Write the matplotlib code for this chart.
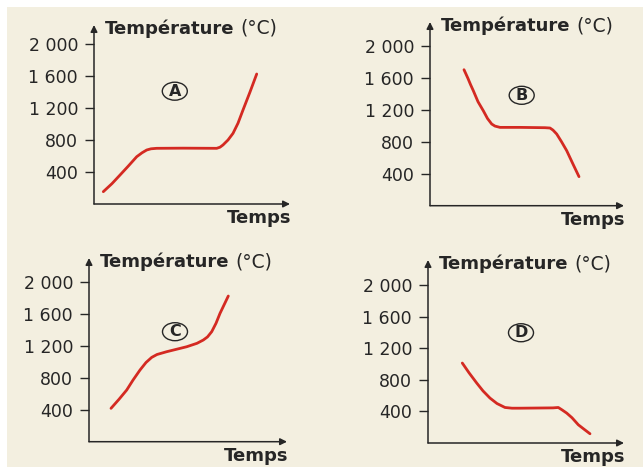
import matplotlib
matplotlib.use("Agg")
import matplotlib.pyplot as plt
from matplotlib.patches import Ellipse, Rectangle

# ---------------- data (time in arbitrary units, temperature in °C) ----------------
tick_values = [400, 800, 1200, 1600, 2000]
tick_labels = ["400", "800", "1 200", "1 600", "2 000"]
y_label = "Température"
y_unit = "(°C)"
x_label = "Temps"
panel_names = ["A", "B", "C", "D"]

time_A = [9.3, 18, 26, 34, 42.7, 48, 52.7, 57, 62.7, 89, 122.7, 126, 129, 134, 139, 144, 149, 156, 162.7]
temp_A = [154, 255, 362, 470, 591, 640, 675, 690, 696, 698, 696, 710, 738, 800, 883, 1010, 1175, 1400, 1625]

time_B = [34, 36, 38, 40.5, 43.3, 48, 53.3, 57.5, 61.7, 65, 70, 90, 115, 120, 123, 126.7, 131.5, 136.7, 143, 149]
temp_B = [1700, 1645, 1590, 1515, 1438, 1300, 1187, 1090, 1021, 995, 979, 979, 975, 971, 945, 896, 800, 688, 520, 363]

time_C = [22, 30, 37.7, 44, 51, 57, 62.7, 68, 77.7, 97.7, 108, 114.3, 118.5, 122.7, 127, 131, 139.3]
temp_C = [417, 530, 646, 770, 896, 990, 1054, 1090, 1125, 1187, 1230, 1271, 1310, 1375, 1480, 1604, 1821]

time_D = [34.3, 41, 48.7, 55, 62, 69, 77, 84, 92, 125, 130.3, 134, 138.7, 144, 150.3, 156, 162]
temp_D = [1013, 890, 760, 660, 569, 500, 450, 441, 441, 445, 450, 420, 379, 320, 231, 175, 117]

series = [(time_A, temp_A), (time_B, temp_B), (time_C, temp_C), (time_D, temp_D)]

# ---------------- layout (pixels) ----------------
W, H = 643, 467
# (y-axis x, x-axis y, right arrow tip x, top arrow tip y, °C per pixel)
geoms = [
    (94, 204, 290, 25, 12.5),
    (430, 205.7, 624, 22, 12.5),
    (89, 441.7, 287, 258, 12.5),
    (428, 443, 624, 260, 12.67),
]
label_pos = [(80.8, 1410), (91.7, 1380), (86, 1375), (93, 1397)]

BG = "#f3efe0"
RED = "#d42a22"
INK = "#262626"

fig = plt.figure(figsize=(W / 100, H / 100), dpi=100, facecolor="white")
fig.patches.append(Rectangle((7 / W, 0), 1 - 7 / W, 1 - 7 / H, transform=fig.transFigure,
                             facecolor=BG, edgecolor="none", zorder=-10))

plt.rcParams["font.family"] = ["DejaVu Sans"]
renderer = fig.canvas.get_renderer()

for (x0, y0, xr, yt, scale), (tx, ty), name, lp in zip(geoms, series, panel_names, label_pos):
    wpx = xr - x0
    hpx = y0 - yt
    ax = fig.add_axes([x0 / W, 1 - y0 / H, wpx / W, hpx / H])
    ax.set_facecolor("none")
    ax.set_xlim(0, wpx)
    ax.set_ylim(0, hpx * scale)
    for s in ax.spines.values():
        s.set_visible(False)
    ax.set_xticks([])
    ax.set_yticks(tick_values)
    ax.set_yticklabels(tick_labels)
    ax.tick_params(axis="y", direction="out", length=6.5, width=1.0, pad=5,
                   labelsize=12.5, colors=INK)

    # axis arrows
    arrow = dict(arrowstyle="-|>", lw=1.1, color=INK, mutation_scale=10,
                 shrinkA=0, shrinkB=0)
    ax.annotate("", xy=(0, 1), xytext=(0, 0), xycoords="axes fraction",
                arrowprops=arrow, annotation_clip=False)
    ax.annotate("", xy=(1, 0), xytext=(0, 0), xycoords="axes fraction",
                arrowprops=arrow, annotation_clip=False)

    # curve
    ax.plot(tx, ty, color=RED, lw=2.0, solid_capstyle="round", solid_joinstyle="round")

    # axis titles
    t1 = ax.annotate(y_label, xy=(0, 1), xycoords="axes fraction", xytext=(11, -9),
                     textcoords="offset pixels", ha="left", va="baseline",
                     fontsize=13, fontweight="bold", color=INK, annotation_clip=False)
    bb = t1.get_window_extent(renderer)
    ax.annotate(y_unit, xy=(0, 1), xycoords="axes fraction",
                xytext=(11 + bb.width + 6, -9), textcoords="offset pixels",
                ha="left", va="baseline", fontsize=13.5, color=INK,
                annotation_clip=False)
    ax.annotate(x_label, xy=(1, 0), xycoords="axes fraction", xytext=(1, -19),
                textcoords="offset pixels", ha="right", va="baseline",
                fontsize=13, fontweight="bold", color=INK, annotation_clip=False)

    # circled panel letter
    ax.add_patch(Ellipse(lp, width=25, height=18 * scale, facecolor="none",
                         edgecolor=INK, lw=1.0))
    ax.text(lp[0], lp[1], name, ha="center", va="center", fontsize=11.5,
            fontweight="bold", color=INK)

fig.savefig("out.png", dpi=100, facecolor=fig.get_facecolor())
